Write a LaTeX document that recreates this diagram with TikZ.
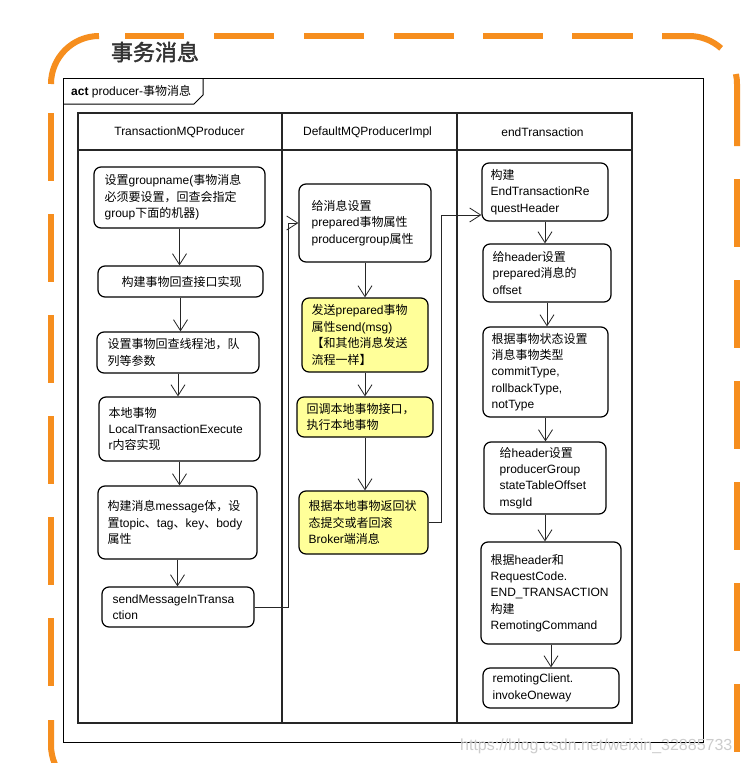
\documentclass[tikz,border=0pt]{standalone}
\usepackage{fontspec}
\setmainfont{Liberation Sans}
\newfontfamily\cjk{Noto Sans CJK SC}
\newfontfamily\cjkb{Noto Sans CJK SC}[FakeBold=2]
\usetikzlibrary{arrows.meta}
\newcommand\zh[1]{{\cjk #1}}
\definecolor{mqorange}{RGB}{246,142,30}
\definecolor{mqyellow}{RGB}{255,255,153}
\definecolor{titlegray}{RGB}{51,51,51}
\tikzset{
  abox/.style={draw=black, line width=1.2pt, rounded corners=7pt, inner sep=0pt},
  atext/.style={anchor=west, align=left, inner sep=0pt, font=\fontsize{12}{16.4}\selectfont},
  hdr/.style={inner sep=0pt, font=\fontsize{12}{14}\selectfont},
  flow/.style={draw=black!85, line width=0.8pt, -{Straight Barb[length=11pt,width=14pt,line width=0.8pt]}},
  lane/.style={line width=2pt, draw=black!85},
  actframe/.style={draw=black, line width=1pt},
  orangedash/.style={draw=mqorange, line width=6pt},
}
% optional text offset, name, x1, y1, x2, y2, fill, text
\newcommand\actbox[8][10]{%
  \node[abox, fill=#7, minimum width={(#5-#3)*1pt}, minimum height={(#6-#4)*1pt}] (#2) at ({(#3+#5)/2},{(#4+#6)/2}) {};
  \node[atext] (#2t) at ([xshift=#1pt]#2.west) {#8};
}
\begin{document}
\begin{tikzpicture}[x=1pt,y=-1pt]
\fill[white] (0,0) rectangle (741,763);
\useasboundingbox (0,0) rectangle (741,763);

% orange dashed outline
\draw[orangedash] (51,84) .. controls (51,57.5) and (72.5,36) .. (99,36);
\foreach \a/\b in {125/184,214/274,304/364,394/454,483/543,572/633}
  \draw[orangedash] (\a,36) -- (\b,36);
\draw[orangedash] (662,36) -- (689,36) .. controls (700.9,36) and (712.3,40.4) .. (721.1,48.3);
\draw[orangedash] (735.95,74.02) .. controls (736.65,77.3) and (737,80.65) .. (737,84) -- (737,146);
\foreach \a/\b in {179/247,280/348,381/449,482/550,583/651,684/752}
  \draw[orangedash] (737,\a) -- (737,\b);
\foreach \a/\b in {113/181,214/282,315/383,416/484,517/585,618/686}
  \draw[orangedash] (51,\a) -- (51,\b);
\draw[orangedash] (51,720) -- (51,745) .. controls (51,751.44) and (52.3,757.9) .. (54.8,763.8);

% title
\node[font={\cjkb\fontsize{22}{26}\selectfont}, text=titlegray, inner sep=0pt] (title) at (155,52) {事务消息};

% act frame
\draw[actframe] (63,78) rectangle (703,742);
\draw[actframe] (63,104) -- (194,104) -- (203,95) -- (203,78);
\node[anchor=west, inner sep=0pt, font=\fontsize{12}{14}\selectfont] (actlabel) at (71,91.5) {\textbf{act} producer-\zh{事物消息}};

% swimlanes
\draw[lane] (78,113) rectangle (632,723);
\draw[lane] (282,113) -- (282,723);
\draw[lane] (457,113) -- (457,723);
\draw[lane, line width=2.8pt] (78,150) -- (632,150);
\node[hdr] (h1) at (179.5,132) {TransactionMQProducer};
\node[hdr] (h2) at (367.5,132) {DefaultMQProducerImpl};
\node[hdr] (h3) at (542.5,132) {endTransaction};

% lane 1
\actbox[11]{n1}{94}{167}{265}{228}{white}{\zh{设置}groupname(\zh{事物消息}\\\zh{必须要设置，回查会指定}\\group\zh{下面的机器})}
\actbox[24]{n2}{98}{266}{263}{297}{white}{\zh{构建事物回查接口实现}}
\actbox[11]{n3}{97}{332}{259}{373}{white}{\zh{设置事物回查线程池，队}\\\zh{列等参数}}
\actbox{n4}{99}{397}{260}{461}{white}{\zh{本地事物}\\LocalTransactionExecute\\r\zh{内容实现}}
\actbox{n5}{98}{486}{257}{559}{white}{\zh{构建消息}message\zh{体，设}\\\zh{置}topic\zh{、}tag\zh{、}key\zh{、}body\\\zh{属性}}
\actbox[11]{n6}{102}{587}{254}{627}{white}{sendMessageInTransa\\ction}

% lane 2
\actbox[13]{n7}{299}{184}{431}{262}{white}{\zh{给消息设置}\\prepared\zh{事物属性}\\producergroup\zh{属性}}
\actbox{n8}{302}{298}{428}{372}{mqyellow}{\zh{发送}prepared\zh{事物}\\\zh{属性}send(msg)\\\zh{【和其他消息发送}\\\zh{流程一样】}}
\actbox{n9}{297}{397}{433}{437}{mqyellow}{\zh{回调本地事物接口，}\\\zh{执行本地事物}}
\actbox{n10}{299}{491}{428}{554}{mqyellow}{\zh{根据本地事物返回状}\\\zh{态提交或者回滚}\\Broker\zh{端消息}}

% lane 3
\actbox[9]{n11}{482}{163}{608}{221}{white}{\zh{构建}\\EndTransactionRe\\questHeader}
\actbox{n12}{483}{244}{611}{302}{white}{\zh{给}header\zh{设置}\\prepared\zh{消息的}\\offset}
\actbox[9]{n13}{483}{327}{608}{417}{white}{\zh{根据事物状态设置}\\\zh{消息事物类型}\\commitType,\\rollbackType,\\notType}
\actbox[16]{n14}{484}{442}{606}{514}{white}{\zh{给}header\zh{设置}\\producerGroup\\stateTableOffset\\msgId}
\actbox{n15}{481}{542}{621}{644}{white}{\zh{根据}header\zh{和}\\RequestCode.\\END\_TRANSACTION\\\zh{构建}\\RemotingCommand}
\actbox{n16}{483}{668}{619}{708}{white}{remotingClient.\\invokeOneway}

% connectors
\draw[flow] (n1.south) -- (n1.south |- n2.north);
\draw[flow] (n2.south) -- (n2.south |- n3.north);
\draw[flow] (n3.south) -- (n3.south |- n4.north);
\draw[flow] (n4.south) -- (n4.south |- n5.north);
\draw[flow] (n5.south) -- (n5.south |- n6.north);
\coordinate (j1) at (288,0);
\draw[flow] (n6.east) -- (n6.east -| j1) |- (n7.west);
\draw[flow] (n7.south) -- (n7.south |- n8.north);
\draw[flow] (n8.south) -- (n8.south |- n9.north);
\draw[flow] (n9.south) -- (n9.south |- n10.north);
\coordinate (j2) at (441,215);
\draw[flow] (n10.east) -| (j2) -- (j2 -| n11.west);
\draw[flow] (n11.south) -- (n11.south |- n12.north);
\draw[flow] (n12.south) -- (n12.south |- n13.north);
\draw[flow] (n13.south) -- (n13.south |- n14.north);
\draw[flow] (n14.south) -- (n14.south |- n15.north);
\draw[flow] (n15.south) -- (n15.south |- n16.north);

% watermark
\node[anchor=west, inner sep=0pt, text=black!20, font=\fontsize{16}{18}\selectfont] (wm) at (460,746) {https://blog.csdn.net/weixin\_32885733};
\end{tikzpicture}
\end{document}
